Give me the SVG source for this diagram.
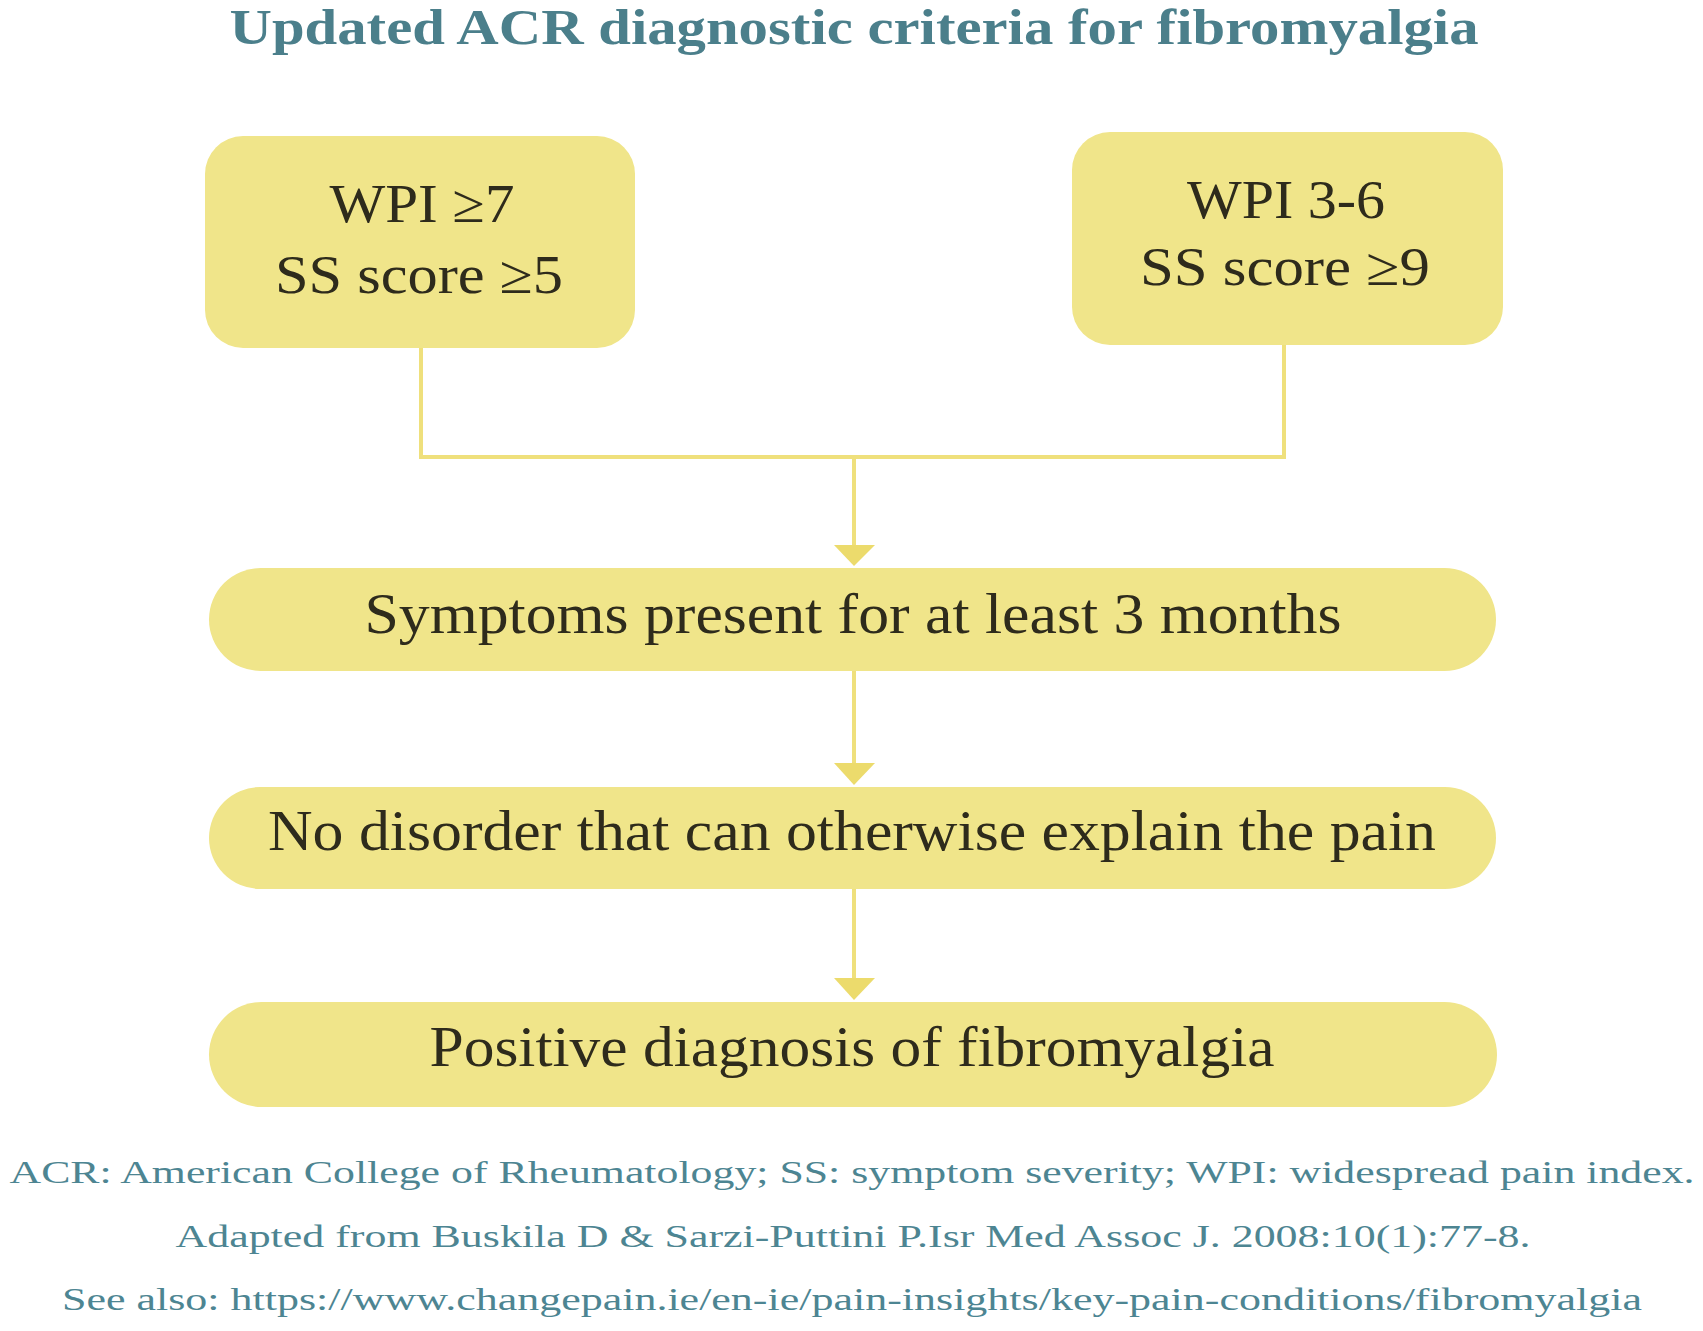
<svg xmlns="http://www.w3.org/2000/svg" width="1703" height="1331" viewBox="0 0 1703 1331">
<style>
.box{fill:#f0e58a;}
.bt{font-family:"Liberation Serif","Times New Roman",serif;fill:#2e2b1c;text-anchor:middle;}
.title{font-family:"Liberation Serif","Times New Roman",serif;font-weight:bold;fill:#4b7f8b;text-anchor:middle;font-size:51px;}
.foot{font-family:"Liberation Serif","Times New Roman",serif;fill:#4d8592;text-anchor:middle;font-size:32px;}
.conn{stroke:#efe07c;stroke-width:4;fill:none;}
.head{fill:#ecdb6c;}
</style>
<rect width="1703" height="1331" fill="#ffffff"/>
<text class="title" x="854" y="44" textLength="1249" lengthAdjust="spacingAndGlyphs">Updated ACR diagnostic criteria for fibromyalgia</text>
<g id="connectors">
<polyline class="conn" points="421,348 421,457 1284,457 1284,344"/>
<line class="conn" x1="854" y1="457" x2="854" y2="548"/>
<polygon class="head" points="834,545 875,545 854,566"/>
<line class="conn" x1="854" y1="670" x2="854" y2="766"/>
<polygon class="head" points="834,763 875,763 854,785"/>
<line class="conn" x1="854" y1="888" x2="854" y2="981"/>
<polygon class="head" points="834,978 875,978 854,1000"/>
</g>
<g id="node-wpi7">
<rect class="box" x="205" y="136" width="430" height="212" rx="38"/>
<text class="bt" x="422" y="222" font-size="54" textLength="185" lengthAdjust="spacingAndGlyphs">WPI ≥7</text>
<text class="bt" x="419" y="293" font-size="54" textLength="288" lengthAdjust="spacingAndGlyphs">SS score ≥5</text>
</g>
<g id="node-wpi36">
<rect class="box" x="1072" y="132" width="431" height="213" rx="38"/>
<text class="bt" x="1286" y="218" font-size="54" textLength="198" lengthAdjust="spacingAndGlyphs">WPI 3-6</text>
<text class="bt" x="1285" y="285" font-size="54" textLength="290" lengthAdjust="spacingAndGlyphs">SS score ≥9</text>
</g>
<g id="node-symptoms">
<rect class="box" x="209" y="568" width="1287" height="103" rx="51.5"/>
<text class="bt" x="853" y="633" font-size="57" textLength="977" lengthAdjust="spacingAndGlyphs">Symptoms present for at least 3 months</text>
</g>
<g id="node-nodisorder">
<rect class="box" x="209" y="787" width="1287" height="102" rx="51"/>
<text class="bt" x="852" y="850" font-size="57" textLength="1168" lengthAdjust="spacingAndGlyphs">No disorder that can otherwise explain the pain</text>
</g>
<g id="node-positive">
<rect class="box" x="209" y="1002" width="1288" height="105" rx="52.5"/>
<text class="bt" x="852" y="1066" font-size="57" textLength="845" lengthAdjust="spacingAndGlyphs">Positive diagnosis of fibromyalgia</text>
</g>
<text class="foot" x="852" y="1183" textLength="1685" lengthAdjust="spacingAndGlyphs">ACR: American College of Rheumatology; SS: symptom severity; WPI: widespread pain index.</text>
<text class="foot" x="853" y="1247" textLength="1355" lengthAdjust="spacingAndGlyphs">Adapted from Buskila D &amp; Sarzi-Puttini P.Isr Med Assoc J. 2008:10(1):77-8.</text>
<text class="foot" x="852" y="1310" textLength="1580" lengthAdjust="spacingAndGlyphs">See also: https://www.changepain.ie/en-ie/pain-insights/key-pain-conditions/fibromyalgia</text>
</svg>
